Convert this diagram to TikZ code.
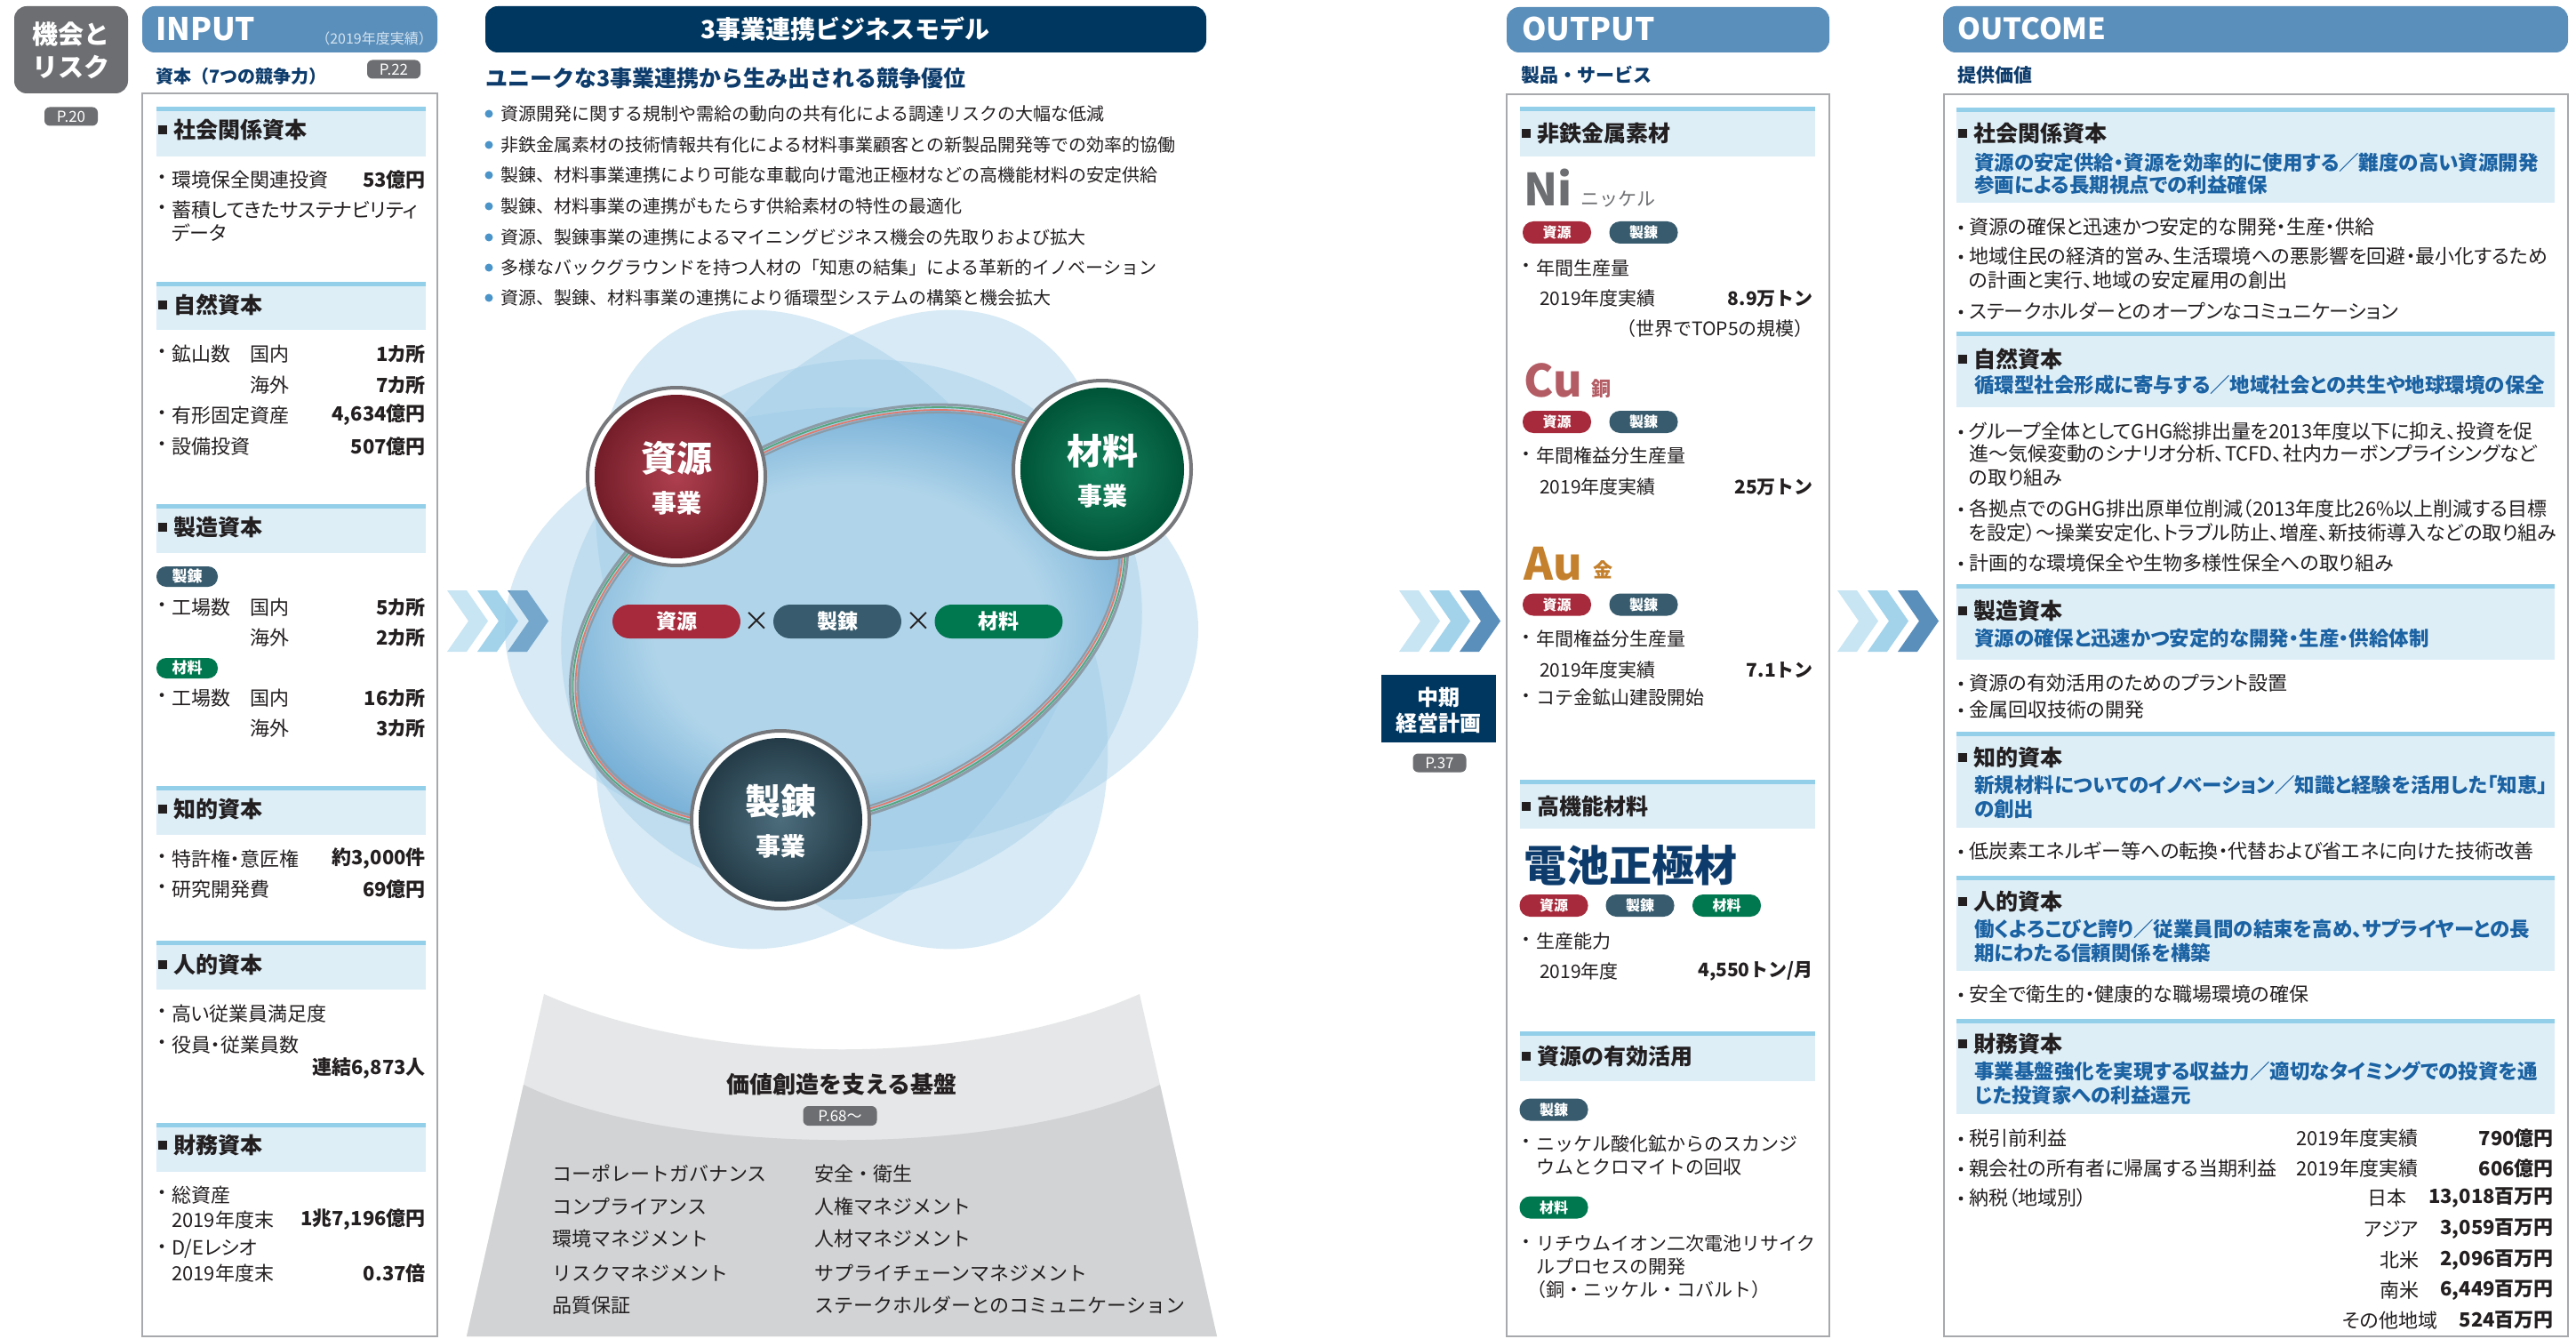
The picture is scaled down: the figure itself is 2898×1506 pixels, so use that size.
\documentclass[tikz,border=0pt]{standalone}
\usepackage{fontspec}
\setmainfont{Noto Sans CJK JP}
\newfontfamily\pfont{Noto Sans CJK JP}[RawFeature=+palt]
\usetikzlibrary{positioning}

\definecolor{hdrblue}{HTML}{5B8FBB}
\definecolor{navy}{HTML}{003760}
\definecolor{navytx}{HTML}{0D3C6C}
\definecolor{pgray}{HTML}{6D6E71}
\definecolor{bartop}{HTML}{94CFE9}
\definecolor{barfill}{HTML}{DDEEF7}
\definecolor{boxline}{HTML}{A7A9AC}
\definecolor{txtc}{HTML}{231F20}
\definecolor{bluetx}{HTML}{1B62A3}
\definecolor{cshigen}{HTML}{A62A3B}
\definecolor{cseiren}{HTML}{385C6E}
\definecolor{czairyo}{HTML}{00784F}
\definecolor{chevA}{HTML}{C8E5F3}
\definecolor{chevB}{HTML}{A2D3EB}
\definecolor{chevC}{HTML}{5B8FBB}
\definecolor{blob}{HTML}{9CCBE7}
\definecolor{glowin}{HTML}{B0D5EA}
\definecolor{glowout}{HTML}{78B0D7}
\definecolor{dotblue}{HTML}{4A94C9}
\definecolor{basel}{HTML}{E6E7E8}
\definecolor{based}{HTML}{D1D3D4}
\definecolor{nicol}{HTML}{6D6E71}
\definecolor{cucol}{HTML}{B35C64}
\definecolor{aucol}{HTML}{C4802C}
\definecolor{ringgray}{HTML}{77787B}
\definecolor{strgray}{HTML}{8C9BA5}
\definecolor{strred}{HTML}{E07A6C}
\definecolor{strgreen}{HTML}{55A67C}
\definecolor{subhd}{HTML}{D3E3F0}

\newcommand{\sz}[1]{\fontsize{#1}{#1}\selectfont}
\pgfdeclareradialshading{ringglow}{\pgfpoint{0bp}{0bp}}{color(0bp)=(glowin); color(16bp)=(glowin); color(25bp)=(glowout); color(50bp)=(glowout)}

% heading band: light fill with a darker top rule
\newcommand{\capbar}[4]{\fill[barfill] (#1,#2) rectangle (#3,#4);
  \fill[bartop] (#1,#2) rectangle (#3,#2+5);}
\newcommand{\captitle}[4]{\fill[txtc] (#2,#3-5) rectangle (#2+10,#3+5);
  \node[secttl] (#1) at (#2+17,#3) {#4};}
\newcommand{\chev}[3]{\fill[#3] (#1,#2) -- ++(22,0) -- ++(24,34.5) -- ++(-24,34.5) -- ++(-22,0) -- ++(24,-34.5) -- cycle;}
\newcommand{\chevrons}[2]{\chev{#1}{#2}{chevA}\chev{#1+34}{#2}{chevB}\chev{#1+68}{#2}{chevC}}
% rows of the three columns
\newcommand{\irow}[4]{\node[itxt] (#1) at (193,#2) {#3};
  \node[itxt,anchor=center] (#1d) at (182,#2) {・};
  \node[ival] (#1v) at (479,#2) {#4};}
\newcommand{\orow}[3]{\node[otxt] (#1) at (1728,#2) {#3};
  \node[otxt,anchor=center] (#1d) at (1717,#2) {・};}
\newcommand{\urow}[3]{\fill[txtc] (2206,#2+1) circle (2.4);
  \node[utxt] (#1) at (2215,#2) {#3};}
\newcommand{\crow}[3]{\fill[dotblue] (550,#2) circle (4.5);
  \node[ctxt] (#1) at (563,#2) {#3};}

\begin{document}
\begin{tikzpicture}[x=1pt,y=-1pt,
  every node/.style={inner sep=0pt},
  secttl/.style={anchor=west, font=\bfseries\sz{25}, text=txtc},
  itxt/.style={anchor=west, font=\pfont\sz{22}, text=txtc},
  ival/.style={anchor=east, font=\pfont\bfseries\sz{22}, text=txtc},
  otxt/.style={anchor=west, font=\sz{21}, text=txtc},
  oval/.style={anchor=east, font=\bfseries\sz{21}, text=txtc},
  ctxt/.style={anchor=west, font=\sz{20}, text=txtc},
  utxt/.style={anchor=west, font=\pfont\sz{22}, text=txtc},
  uval/.style={anchor=east, font=\pfont\bfseries\sz{22}, text=txtc},
  ublue/.style={anchor=west, font=\pfont\bfseries\sz{22.5}, text=bluetx},
  ftxt/.style={anchor=west, font=\sz{22}, text=txtc},
  pbadge/.style={fill=pgray, rounded corners=6pt, text=white, font=\sz{17}, minimum width=60pt, minimum height=21pt},
  badge/.style={rounded corners=12pt, minimum width=77pt, minimum height=25pt, text=white, font=\bfseries\sz{16}},
  sbadge/.style={rounded corners=11pt, minimum width=69pt, minimum height=23pt, text=white, font=\bfseries\sz{17}},
  elem/.style={anchor=base west, font=\bfseries\sz{50}},
  pill/.style={rounded corners=19pt, minimum width=144pt, minimum height=38pt, text=white, font=\bfseries\sz{23}},
  bizring/.style={circle, minimum size=200pt, draw=ringgray, line width=4pt, fill=white},
  bizball/.style={circle, minimum size=184pt},
  bizname/.style={font=\bfseries\sz{40}, text=white},
  bizsub/.style={font=\bfseries\sz{28}, text=white}]

\useasboundingbox (0,0) rectangle (2898,1506);
\fill[white] (0,0) rectangle (2898,1506);

% ---- risk tab
\fill[pgray, rounded corners=14pt] (16,7) rectangle (144,105);
\node[font=\bfseries\sz{29}, text=white] (risk1) at (80,38) {機会と};
\node[font=\bfseries\sz{29}, text=white] (risk2) at (80,75) {リスク};
\node[pbadge] (p20) at (80,131) {P.20};

% ---- INPUT
\fill[hdrblue, rounded corners=14pt] (160,7) rectangle (492,59);
\node[font=\bfseries\sz{35}, text=white, anchor=base west] (inhd) at (175,46) {INPUT};
\node[font=\sz{16}, text=subhd, anchor=east] (inyr) at (487,43) {（2019年度実績）};
\node[font=\bfseries\sz{20}, text=navytx, anchor=west] (incap) at (175,86) {資本（7つの競争力）};
\node[pbadge] (p22) at (443,78) {P.22};
\draw[boxline, line width=2pt] (160,105) rectangle (492,1503);

\capbar{176}{120}{479}{176}
\captitle{ic1}{178}{146}{社会関係資本}
\irow{i11}{202}{環境保全関連投資}{53億円}
\irow{i12}{236}{蓄積してきたサステナビリティ}{}
\node[itxt] (i12b) at (193,262) {データ};

\capbar{176}{317}{479}{371}
\captitle{ic2}{178}{343}{自然資本}
\irow{i21}{398}{鉱山数}{1カ所}
\node[itxt] (i21a) at (281,398) {国内};
\node[itxt] (i21b) at (281,433) {海外};
\node[ival] (i21c) at (479,433) {7カ所};
\irow{i22}{467}{有形固定資産}{4,634億円}
\irow{i23}{502}{設備投資}{507億円}

\capbar{176}{567}{479}{622}
\captitle{ic3}{178}{593}{製造資本}
\node[sbadge, fill=cseiren] (ib1) at (210.5,648.5) {製錬};
\irow{i31}{683}{工場数}{5カ所}
\node[itxt] (i31a) at (281,683) {国内};
\node[itxt] (i31b) at (281,717) {海外};
\node[ival] (i31c) at (479,717) {2カ所};
\node[sbadge, fill=czairyo] (ib2) at (210.5,751.5) {材料};
\irow{i32}{785}{工場数}{16カ所}
\node[itxt] (i32a) at (281,785) {国内};
\node[itxt] (i32b) at (281,819) {海外};
\node[ival] (i32c) at (479,819) {3カ所};

\capbar{176}{884}{479}{939}
\captitle{ic4}{178}{910}{知的資本}
\irow{i41}{966}{特許権・意匠権}{約3,000件}
\irow{i42}{1000}{研究開発費}{69億円}

\capbar{176}{1058}{479}{1113}
\captitle{ic5}{178}{1085}{人的資本}
\irow{i51}{1140}{高い従業員満足度}{}
\irow{i52}{1175}{役員・従業員数}{}
\node[ival] (i52v) at (479,1202) {連結6,873人};

\capbar{176}{1263}{479}{1318}
\captitle{ic6}{178}{1288}{財務資本}
\irow{i61}{1344}{総資産}{}
\node[itxt] (i61y) at (193,1372) {2019年度末};
\node[ival] (i61v) at (479,1372) {1兆7,196億円};
\irow{i62}{1405}{D/Eレシオ}{}
\node[itxt] (i62y) at (193,1432) {2019年度末};
\node[ival] (i62v) at (479,1432) {0.37倍};

\chevrons{503}{664}

% ---- business model
\fill[navy, rounded corners=14pt] (546,7) rectangle (1357,59);
\node[font=\bfseries\sz{28}, text=white] (bmhd) at (951,33) {3事業連携ビジネスモデル};
\node[font=\bfseries\sz{25}, text=navytx, anchor=west] (bmcap) at (546,88) {ユニークな3事業連携から生み出される競争優位};
\crow{c1}{128}{資源開発に関する規制や需給の動向の共有化による調達リスクの大幅な低減}
\crow{c2}{163}{非鉄金属素材の技術情報共有化による材料事業顧客との新製品開発等での効率的協働}
\crow{c3}{197}{製錬、材料事業連携により可能な車載向け電池正極材などの高機能材料の安定供給}
\crow{c4}{232}{製錬、材料事業の連携がもたらす供給素材の特性の最適化}
\crow{c5}{267}{資源、製錬事業の連携によるマイニングビジネス機会の先取りおよび拡大}
\crow{c6}{301}{多様なバックグラウンドを持つ人材の「知恵の結集」による革新的イノベーション}
\crow{c7}{335}{資源、製錬、材料事業の連携により循環型システムの構築と機会拡大}

\coordinate (hub) at (958,708);
\begin{scope}[fill=blob, fill opacity=.4]
  \fill[rotate around={60:(hub)}] (hub) ellipse [x radius=390, y radius=245];
  \fill[rotate around={-60:(hub)}] (hub) ellipse [x radius=390, y radius=245];
  \fill (hub) ellipse [x radius=390, y radius=250];
  \fill[rotate around={20:(hub)}] (hub) ellipse [x radius=330, y radius=300];
\end{scope}
\begin{scope}[rotate around={25:(955,695)}]
  \shade[shading=ringglow] (955,695) ellipse [x radius=324, y radius=208];
  \draw[strgray, line width=3pt] (955,695) ellipse [x radius=331, y radius=215];
  \draw[strgreen, line width=1.8pt] (955,695) ellipse [x radius=328, y radius=212];
  \draw[strred, line width=1.8pt] (955,695) ellipse [x radius=325, y radius=209];
  \draw[strgray, line width=2pt] (955,695) ellipse [x radius=322, y radius=206];
\end{scope}

\node[bizring] (shigenR) at (761,536) {};
\node[bizball, inner color=cshigen!90!white, outer color=cshigen!70!black] (shigen) at (761,536) {};
\node[bizname] (shigenT) at (761,515) {資源};
\node[bizsub] (shigenS) at (761,566) {事業};
\node[bizring] (zairyoR) at (1240,528) {};
\node[bizball, inner color=czairyo!92!white, outer color=czairyo!70!black] (zairyo) at (1240,528) {};
\node[bizname] (zairyoT) at (1240,507) {材料};
\node[bizsub] (zairyoS) at (1240,558) {事業};
\node[bizring] (seirenR) at (878,922) {};
\node[bizball, inner color=cseiren!90!white, outer color=cseiren!65!black] (seiren) at (878,922) {};
\node[bizname] (seirenT) at (878,901) {製錬};
\node[bizsub] (seirenS) at (878,952) {事業};

\node[pill, fill=cshigen] (pS) at (761,699) {資源};
\node[font=\sz{30}, text=txtc] (x1) at (851,699) {×};
\node[pill, fill=cseiren] (pR) at (942,699) {製錬};
\node[font=\sz{30}, text=txtc] (x2) at (1033,699) {×};
\node[pill, fill=czairyo] (pZ) at (1123.5,699) {材料};

% ---- foundation
\fill[basel] (612,1118) .. controls (800,1201) and (1094,1201) .. (1282,1118) -- (1369,1503) -- (525,1503) -- cycle;
\fill[based] (589,1220) .. controls (760,1303) and (1134,1303) .. (1305,1220) -- (1369,1503) -- (525,1503) -- cycle;
\node[font=\bfseries\sz{26}, text=txtc] (fnd) at (947,1220) {価値創造を支える基盤};
\node[pbadge, minimum width=83pt, minimum height=22pt] (p68) at (945,1255) {P.68〜};
\node[ftxt] (f1) at (621,1320) {コーポレートガバナンス};
\node[ftxt] (f2) at (621,1357) {コンプライアンス};
\node[ftxt] (f3) at (621,1393) {環境マネジメント};
\node[ftxt] (f4) at (621,1432) {リスクマネジメント};
\node[ftxt] (f5) at (621,1468) {品質保証};
\node[ftxt] (f6) at (916,1320) {安全・衛生};
\node[ftxt] (f7) at (916,1357) {人権マネジメント};
\node[ftxt] (f8) at (916,1393) {人材マネジメント};
\node[ftxt] (f9) at (916,1432) {サプライチェーンマネジメント};
\node[ftxt] (f10) at (916,1468) {ステークホルダーとのコミュニケーション};

% ---- plan
\chevrons{1574}{664}
\fill[navy] (1554,759) rectangle (1683,835);
\node[font=\bfseries\sz{24}, text=white] (plan1) at (1618.5,784) {中期};
\node[font=\bfseries\sz{24}, text=white] (plan2) at (1618.5,813) {経営計画};
\node[pbadge] (p37) at (1619.5,858) {P.37};

% ---- OUTPUT
\fill[hdrblue, rounded corners=14pt] (1695,8) rectangle (2058,59);
\node[font=\bfseries\sz{35}, text=white, anchor=base west] (outhd) at (1712,46) {OUTPUT};
\node[font=\bfseries\sz{21}, text=navytx, anchor=west] (outcap) at (1711,84) {製品・サービス};
\draw[boxline, line width=2pt] (1695,106) rectangle (2058,1503);

\capbar{1710}{120}{2042}{176}
\captitle{oc1}{1712}{150}{非鉄金属素材}
\node[elem, text=nicol] (ni) at (1714,232) {Ni};
\node[otxt, text=nicol] (nij) at (1778,224) {ニッケル};
\node[badge, fill=cshigen] (ni1) at (1751.5,261.5) {資源};
\node[badge, fill=cseiren] (ni2) at (1849,261.5) {製錬};
\orow{o11}{301}{年間生産量}
\node[otxt] (o11y) at (1732,336) {2019年度実績};
\node[oval] (o11v) at (2040,336) {8.9万トン};
\node[otxt, anchor=east] (o11n) at (2040,370) {（世界でTOP5の規模）};

\node[elem, text=cucol] (cu) at (1714,446) {Cu};
\node[otxt, font=\bfseries\sz{22}, text=cucol] (cuj) at (1790,437) {銅};
\node[badge, fill=cshigen] (cu1) at (1751.5,474.5) {資源};
\node[badge, fill=cseiren] (cu2) at (1849,474.5) {製錬};
\orow{o21}{513}{年間権益分生産量}
\node[otxt] (o21y) at (1732,548) {2019年度実績};
\node[oval] (o21v) at (2040,548) {25万トン};

\node[elem, text=aucol] (au) at (1714,652) {Au};
\node[otxt, font=\bfseries\sz{22}, text=aucol] (auj) at (1792,641) {金};
\node[badge, fill=cshigen] (au1) at (1751.5,680) {資源};
\node[badge, fill=cseiren] (au2) at (1849,680) {製錬};
\orow{o31}{719}{年間権益分生産量}
\node[otxt] (o31y) at (1732,754) {2019年度実績};
\node[oval] (o31v) at (2040,754) {7.1トン};
\orow{o32}{785}{コテ金鉱山建設開始}

\capbar{1710}{877}{2042}{932}
\captitle{oc2}{1712}{907}{高機能材料}
\node[font=\bfseries\sz{48}, text=navytx, anchor=west] (batt) at (1714,973) {電池正極材};
\node[badge, fill=cshigen] (bt1) at (1748,1018.5) {資源};
\node[badge, fill=cseiren] (bt2) at (1845,1018.5) {製錬};
\node[badge, fill=czairyo] (bt3) at (1942.5,1018.5) {材料};
\orow{o41}{1059}{生産能力}
\node[otxt] (o41y) at (1732,1092) {2019年度};
\node[oval] (o41v) at (2040,1092) {4,550トン/月};

\capbar{1710}{1160}{2042}{1216}
\captitle{oc3}{1712}{1188}{資源の有効活用}
\node[badge, fill=cseiren] (rc1) at (1748,1248) {製錬};
\orow{o51}{1286}{ニッケル酸化鉱からのスカンジ}
\node[otxt] (o51b) at (1728,1313) {ウムとクロマイトの回収};
\node[badge, fill=czairyo] (rc2) at (1748,1358) {材料};
\orow{o52}{1399}{リチウムイオン二次電池リサイク}
\node[otxt] (o52b) at (1728,1425) {ルプロセスの開発};
\node[otxt] (o52c) at (1718,1451) {（銅・ニッケル・コバルト）};

\chevrons{2067}{664}

% ---- OUTCOME
\fill[hdrblue, rounded corners=14pt] (2186,7) rectangle (2889,59);
\node[font=\bfseries\sz{33}, text=white, anchor=base west] (uchd) at (2202,45) {OUTCOME};
\node[font=\bfseries\sz{21}, text=navytx, anchor=west] (uccap) at (2202,85) {提供価値};
\draw[boxline, line width=2pt] (2187,106) rectangle (2889,1503);

\capbar{2201}{121}{2874}{228}
\captitle{uc1}{2203}{150}{社会関係資本}
\node[ublue] (uc1a) at (2221,183) {資源の安定供給・資源を効率的に使用する／難度の高い資源開発};
\node[ublue] (uc1b) at (2221,208) {参画による長期視点での利益確保};
\urow{u11}{255}{資源の確保と迅速かつ安定的な開発・生産・供給}
\urow{u12}{288}{地域住民の経済的営み、生活環境への悪影響を回避・最小化するため}
\node[utxt] (u12b) at (2215,315) {の計画と実行、地域の安定雇用の創出};
\urow{u13}{350}{ステークホルダーとのオープンなコミュニケーション}

\capbar{2201}{373}{2874}{458}
\captitle{uc2}{2203}{404}{自然資本}
\node[ublue] (uc2a) at (2221,433) {循環型社会形成に寄与する／地域社会との共生や地球環境の保全};
\urow{u21}{485}{グループ全体としてGHG総排出量を2013年度以下に抑え、投資を促}
\node[utxt] (u21b) at (2215,510) {進〜気候変動のシナリオ分析、TCFD、社内カーボンプライシングなど};
\node[utxt] (u21c) at (2215,537) {の取り組み};
\urow{u22}{572}{各拠点でのGHG排出原単位削減（2013年度比26\%以上削減する目標}
\node[utxt] (u22b) at (2215,599) {を設定）〜操業安定化、トラブル防止、増産、新技術導入などの取り組み};
\urow{u23}{633}{計画的な環境保全や生物多様性保全への取り組み}

\capbar{2201}{657}{2874}{742}
\captitle{uc3}{2203}{687}{製造資本}
\node[ublue] (uc3a) at (2221,718) {資源の確保と迅速かつ安定的な開発・生産・供給体制};
\urow{u31}{768}{資源の有効活用のためのプラント設置}
\urow{u32}{798}{金属回収技術の開発}

\capbar{2201}{823}{2874}{931}
\captitle{uc4}{2203}{852}{知的資本}
\node[ublue] (uc4a) at (2221,883) {新規材料についてのイノベーション／知識と経験を活用した「知恵」};
\node[ublue] (uc4b) at (2221,910) {の創出};
\urow{u41}{957}{低炭素エネルギー等への転換・代替および省エネに向けた技術改善}

\capbar{2201}{985}{2874}{1092}
\captitle{uc5}{2203}{1014}{人的資本}
\node[ublue] (uc5a) at (2221,1045) {働くよろこびと誇り／従業員間の結束を高め、サプライヤーとの長};
\node[ublue] (uc5b) at (2221,1072) {期にわたる信頼関係を構築};
\urow{u51}{1118}{安全で衛生的・健康的な職場環境の確保}

\capbar{2201}{1146}{2874}{1253}
\captitle{uc6}{2203}{1174}{財務資本}
\node[ublue] (uc6a) at (2221,1205) {事業基盤強化を実現する収益力／適切なタイミングでの投資を通};
\node[ublue] (uc6b) at (2221,1232) {じた投資家への利益還元};
\urow{u61}{1280}{税引前利益}
\node[utxt] (u61y) at (2583,1280) {2019年度実績};
\node[uval] (u61v) at (2873,1280) {790億円};
\urow{u62}{1314}{親会社の所有者に帰属する当期利益}
\node[utxt] (u62y) at (2583,1314) {2019年度実績};
\node[uval] (u62v) at (2873,1314) {606億円};
\urow{u63}{1347}{納税（地域別）}
\node[uval] (tx1v) at (2873,1347) {13,018百万円};
\node[utxt, left=24pt of tx1v] (tx1) {日本};
\node[uval] (tx2v) at (2873,1382) {3,059百万円};
\node[utxt, left=24pt of tx2v] (tx2) {アジア};
\node[uval] (tx3v) at (2873,1417) {2,096百万円};
\node[utxt, left=24pt of tx3v] (tx3) {北米};
\node[uval] (tx4v) at (2873,1451) {6,449百万円};
\node[utxt, left=24pt of tx4v] (tx4) {南米};
\node[uval] (tx5v) at (2873,1485) {524百万円};
\node[utxt, left=24pt of tx5v] (tx5) {その他地域};
\end{tikzpicture}
\end{document}
